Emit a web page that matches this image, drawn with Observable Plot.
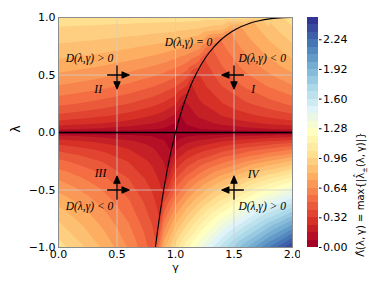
<!DOCTYPE html>
<html><head><meta charset="utf-8">
<script src="https://cdn.jsdelivr.net/npm/d3@7"></script>
<script src="https://cdn.jsdelivr.net/npm/@observablehq/plot@0.6"></script>
<style>
body{margin:0;background:#fff}
#wrap{position:relative;width:374px;height:288px;background:#fff}
#wrap svg{position:absolute;top:0}
</style></head><body><div id="wrap"></div>
<script>
// sampled field Λ̂(λ,γ), columns = gamma, rows = lambda
const gammaGrid = [0, 0.2, 0.4, 0.6, 0.8, 0.9, 1.0, 1.1, 1.2, 1.4, 1.6, 1.8, 2.0];
const lambdaGrid = [-1, -0.8, -0.6, -0.4, -0.25, -0.15, -0.08, -0.03, 0, 0.03, 0.08, 0.15, 0.25, 0.4, 0.5, 0.6, 0.7, 0.8, 0.9, 1];
const valueGrid = [
  [1.000, 0.894, 0.775, 0.632, 0.447, 0.770, 1.000, 1.184, 1.348, 1.643, 1.914, 2.169, 2.414],
  [0.894, 0.800, 0.693, 0.566, 0.400, 0.583, 0.800, 0.963, 1.105, 1.356, 1.583, 1.796, 2.000],
  [0.775, 0.693, 0.600, 0.490, 0.346, 0.384, 0.600, 0.741, 0.860, 1.065, 1.248, 1.418, 1.580],
  [0.632, 0.566, 0.490, 0.400, 0.283, 0.200, 0.400, 0.517, 0.611, 0.768, 0.905, 1.031, 1.148],
  [0.500, 0.447, 0.387, 0.316, 0.224, 0.158, 0.250, 0.347, 0.419, 0.536, 0.636, 0.726, 0.809],
  [0.387, 0.346, 0.300, 0.245, 0.173, 0.122, 0.150, 0.230, 0.285, 0.372, 0.443, 0.507, 0.565],
  [0.283, 0.253, 0.219, 0.179, 0.126, 0.089, 0.080, 0.144, 0.183, 0.243, 0.292, 0.335, 0.374],
  [0.173, 0.155, 0.134, 0.110, 0.077, 0.055, 0.030, 0.074, 0.098, 0.133, 0.160, 0.184, 0.206],
  [0.000, 0.000, 0.000, 0.000, 0.000, 0.000, 0.000, 0.000, 0.000, 0.000, 0.000, 0.000, 0.000],
  [0.173, 0.158, 0.140, 0.119, 0.090, 0.070, 0.030, 0.055, 0.077, 0.110, 0.134, 0.155, 0.173],
  [0.283, 0.261, 0.236, 0.205, 0.163, 0.132, 0.080, 0.089, 0.126, 0.179, 0.219, 0.253, 0.283],
  [0.387, 0.362, 0.332, 0.294, 0.243, 0.207, 0.150, 0.122, 0.173, 0.245, 0.300, 0.346, 0.387],
  [0.500, 0.473, 0.441, 0.400, 0.345, 0.307, 0.250, 0.158, 0.224, 0.316, 0.387, 0.447, 0.500],
  [0.632, 0.607, 0.576, 0.538, 0.485, 0.449, 0.400, 0.312, 0.283, 0.400, 0.490, 0.566, 0.632],
  [0.707, 0.684, 0.657, 0.622, 0.574, 0.542, 0.500, 0.435, 0.316, 0.447, 0.548, 0.632, 0.707],
  [0.775, 0.755, 0.732, 0.702, 0.661, 0.635, 0.600, 0.551, 0.458, 0.490, 0.600, 0.693, 0.775],
  [0.837, 0.822, 0.803, 0.779, 0.747, 0.726, 0.700, 0.665, 0.611, 0.529, 0.648, 0.748, 0.837],
  [0.894, 0.884, 0.871, 0.854, 0.832, 0.818, 0.800, 0.777, 0.745, 0.566, 0.693, 0.800, 0.894],
  [0.949, 0.943, 0.937, 0.928, 0.916, 0.909, 0.900, 0.889, 0.874, 0.822, 0.735, 0.849, 0.949],
  [1.000, 1.000, 1.000, 1.000, 1.000, 1.000, 1.000, 1.000, 1.000, 1.000, 1.000, 1.000, 1.000]
];
// the D(λ,γ) = 0 curve, and the field value along it
const curveLambda = [-1, -0.8, -0.6, -0.4, -0.25, -0.15, -0.08, 0, 0.08, 0.15, 0.25, 0.4, 0.5, 0.6, 0.7, 0.8, 0.85, 0.9, 0.95, 0.97, 0.99, 0.998, 1];
const curveGamma  = [0.828, 0.854, 0.883, 0.916, 0.944, 0.965, 0.981, 1.0, 1.021, 1.041, 1.072, 1.127, 1.172, 1.225, 1.292, 1.382, 1.442, 1.520, 1.635, 1.705, 1.818, 1.914, 2.0];
const curveValue  = [0.414, 0.342, 0.265, 0.183, 0.118, 0.072, 0.039, 0, 0.041, 0.078, 0.134, 0.225, 0.293, 0.368, 0.452, 0.553, 0.613, 0.684, 0.777, 0.827, 0.900, 0.955, 1.0];

const levels = [0, 0.08, 0.16, 0.24, 0.32, 0.40, 0.48, 0.56, 0.64, 0.72, 0.80, 0.88, 0.96, 1.04, 1.12, 1.20, 1.28, 1.36, 1.44, 1.52, 1.60, 1.68, 1.76, 1.84, 1.92, 2.00, 2.08, 2.16, 2.24, 2.32, 2.40, 2.48];
const colorbarTicks = [0, 0.32, 0.64, 0.96, 1.28, 1.60, 1.92, 2.24];
const xTicks = [0, 0.5, 1, 1.5, 2];
const yTicks = [-1, -0.5, 0, 0.5, 1];
const colorStops = [0, 0.24, 0.48, 0.72, 0.96, 1.20, 1.44, 1.68, 1.92, 2.16, 2.40];
const rdylbu = ["#a50026", "#d73027", "#f46d43", "#fdae61", "#fee090", "#ffffbf", "#e0f3f8", "#abd9e9", "#74add1", "#4575b4", "#313695"];

const crossGamma = [0.5, 1.5, 0.5, 1.5];
const crossLambda = [0.5, 0.5, -0.5, -0.5];
const crossDirH = [1, -1, 1, -1];
const crossDirV = [-1, -1, 1, 1];

const annoText = ["D(λ,γ) > 0", "II", "D(λ,γ) = 0", "D(λ,γ) < 0", "I", "III", "D(λ,γ) < 0", "IV", "D(λ,γ) > 0"];
const annoGamma = [0.265, 0.339, 1.111, 1.741, 1.664, 0.359, 0.265, 1.664, 1.741];
const annoLambda = [0.645, 0.374, 0.785, 0.643, 0.374, -0.357, -0.638, -0.365, -0.638];

// build tables
const field = [];
lambdaGrid.forEach((l, j) => gammaGrid.forEach((g, i) => field.push({g, l, v: valueGrid[j][i]})));
curveLambda.forEach((l, k) => { if (l !== 0 && l !== 1) field.push({g: curveGamma[k], l, v: curveValue[k]}); });
const curve = curveLambda.map((l, k) => ({g: curveGamma[k], l}));
const crosses = crossGamma.map((g, k) => ({g, l: crossLambda[k], h: crossDirH[k], v: crossDirV[k]}));
const annos = annoText.map((t, k) => ({t, g: annoGamma[k], l: annoLambda[k]}));

const colorOpt = {type: "linear", domain: colorStops, range: rdylbu};
const headShape = {draw(ctx, l) { const h = 7, w = 3; ctx.moveTo(0, 0); ctx.lineTo(0, -l + h); ctx.moveTo(-w, -l + h); ctx.lineTo(0, -l); ctx.lineTo(w, -l + h); ctx.closePath(); }};

const main = Plot.plot({
  width: 300, height: 288,
  marginLeft: 58, marginRight: 8, marginTop: 17, marginBottom: 41,
  style: {fontFamily: "DejaVu Sans", fontSize: "11px", background: "transparent", color: "black"},
  x: {domain: [0, 2], ticks: xTicks, tickFormat: ".1f", tickSize: 0, tickPadding: 3, label: null},
  y: {domain: [-1, 1], ticks: yTicks, tickFormat: ".1f", tickSize: 0, tickPadding: 3, label: null},
  color: colorOpt,
  marks: [
    Plot.contour(field, {x: "g", y: "l", fill: "v", interpolate: "barycentric", thresholds: levels.slice(0, -1), pixelSize: 1}),
    Plot.gridX([0.5, 1, 1.5], {stroke: "#cfcfcf", strokeOpacity: 0.75, strokeWidth: 1}),
    Plot.gridY([-0.5, 0.5], {stroke: "#cfcfcf", strokeOpacity: 0.75, strokeWidth: 1}),
    Plot.ruleY([0], {stroke: "black", strokeWidth: 1.3}),
    Plot.line(curve, {x: "g", y: "l", curve: "catmull-rom", stroke: "black", strokeWidth: 1.1}),
    Plot.frame({stroke: "#8c8c8c", strokeWidth: 1}),
    Plot.vector(crosses, {x: d => d.g - d.h * 0.08, y: "l", length: 21.5, rotate: d => d.h > 0 ? 90 : -90, anchor: "start", shape: headShape, stroke: "black", fill: "black", strokeWidth: 1.3}),
    Plot.vector(crosses, {x: "g", y: d => d.l - d.v * 0.08, length: 23, rotate: d => d.v > 0 ? 0 : 180, anchor: "start", shape: headShape, stroke: "black", fill: "black", strokeWidth: 1.3}),
    Plot.text(annos, {x: "g", y: "l", text: "t", fontFamily: "Liberation Serif", fontStyle: "italic", fontSize: 11.5, fill: "black"}),
    Plot.text(["γ"], {frameAnchor: "bottom", dy: 23, fontSize: 11}),
    Plot.text(["λ"], {frameAnchor: "left", dx: -42, rotate: -90, fontSize: 12})
  ]
});
main.style.left = "0px";

const bandLower = levels.slice(0, -1);
const cb = Plot.plot({
  width: 74, height: 288,
  marginLeft: 7, marginRight: 56, marginTop: 17, marginBottom: 41,
  style: {fontFamily: "DejaVu Sans", fontSize: "11px", background: "transparent", color: "black"},
  x: {domain: [0, 1], axis: null},
  y: {domain: [0, 2.48], axis: null},
  color: colorOpt,
  marks: [
    Plot.rect(bandLower, {x1: () => 0, x2: () => 1, y1: d => d, y2: (d, i) => levels[i + 1], fill: d => d, shapeRendering: "crispEdges"}),
    Plot.axisY(colorbarTicks, {anchor: "right", tickSize: 2.5, tickPadding: 2, tickFormat: ".2f", label: null}),
    Plot.text(["CBLABEL"], {frameAnchor: "right", dx: 42, rotate: -90, fontSize: 10})
  ]
});
cb.style.left = "300px";
// colorbar label with subscript ±
d3.select(cb).selectAll("text").filter(function() { return this.textContent === "CBLABEL"; }).each(function() {
  const t = d3.select(this);
  t.text(null);
  t.append("tspan").text("Λ\u0302(λ,\u2009γ) = max{|λ\u0302");
  t.append("tspan").attr("font-size", "7px").attr("dy", "3").text("±");
  t.append("tspan").attr("dy", "-3").text("(λ,\u2009γ)|}");
});

document.getElementById("wrap").append(main, cb);
</script></body></html>
